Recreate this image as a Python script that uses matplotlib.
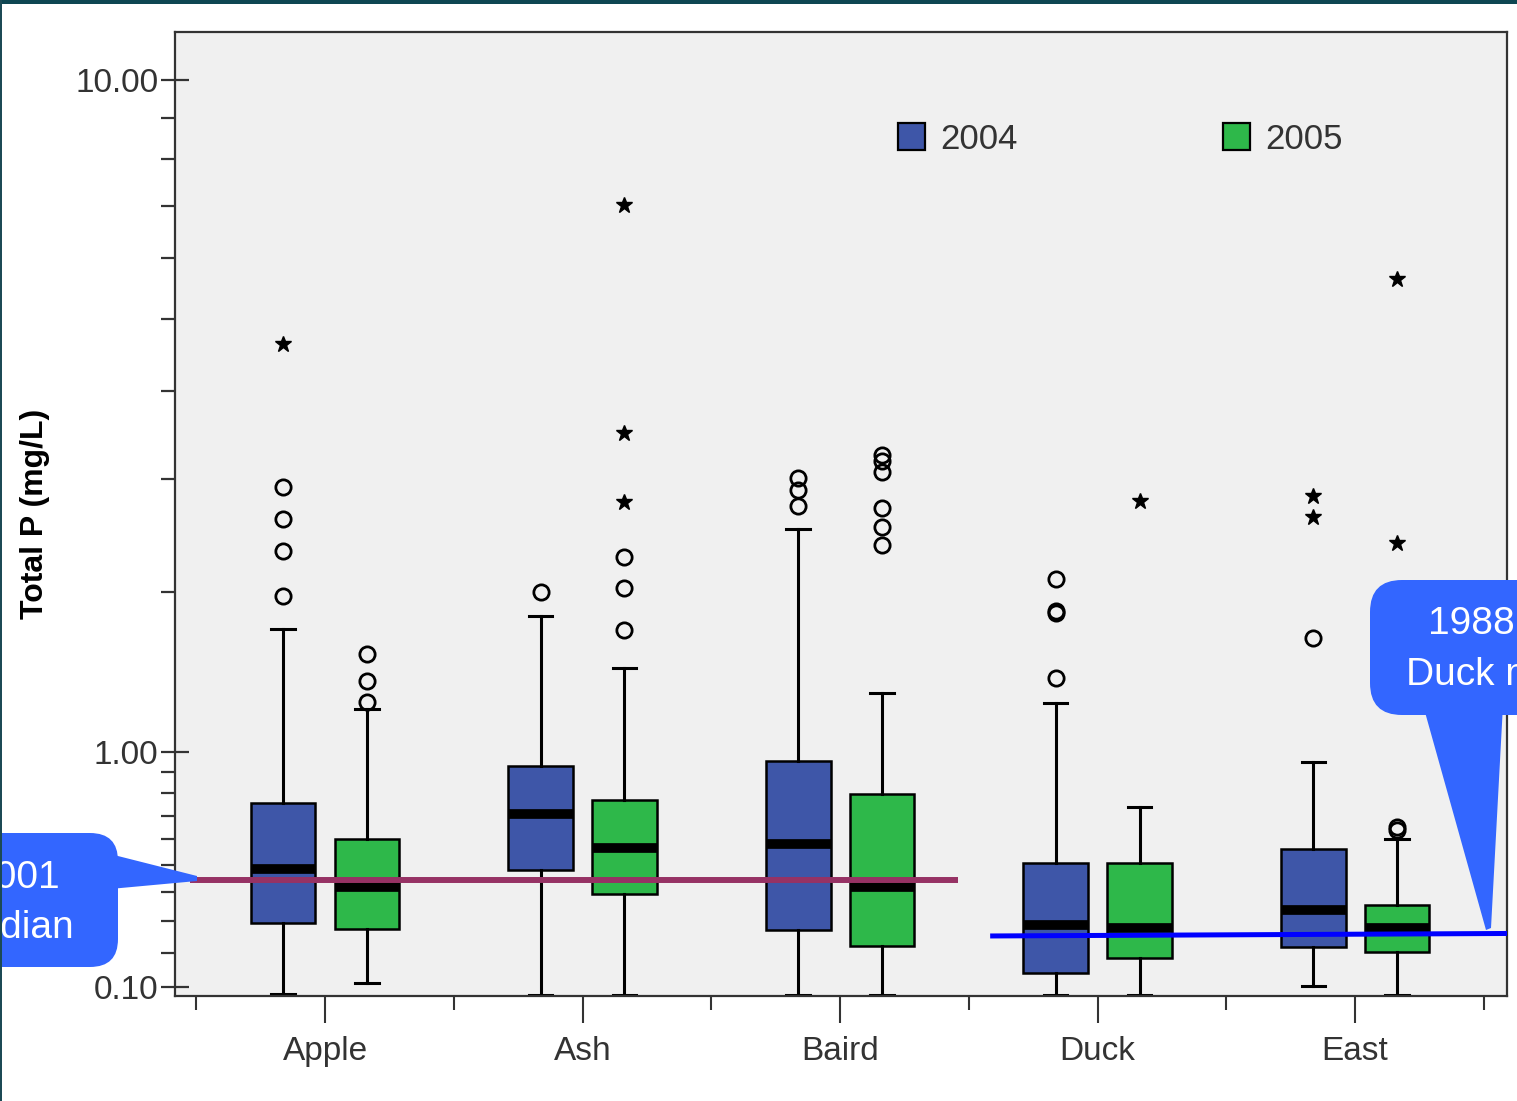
import numpy as np
import matplotlib
matplotlib.use("Agg")
import matplotlib.pyplot as plt
from matplotlib.patches import Patch, FancyBboxPatch, Polygon, Rectangle
from matplotlib.transforms import Affine2D
from matplotlib.ticker import FixedLocator, FixedFormatter, NullFormatter

# ---------------- data ----------------
sites = ["Apple", "Ash", "Baird", "Duck", "East"]
years = ["2004", "2005"]

q1_2004 = [0.295, 0.479, 0.271, 0.141, 0.217]
med_2004 = [0.485, 0.705, 0.583, 0.289, 0.338]
q3_2004 = [0.757, 0.929, 0.952, 0.505, 0.563]
lo_2004 = [0.080, 0.077, 0.077, 0.077, 0.104]
hi_2004 = [1.73, 1.82, 2.52, 1.26, 0.945]
out_2004 = [[1.97, 2.33, 2.61, 2.91], [2.00], [2.73, 2.89, 3.01],
            [1.41, 1.84, 1.86, 2.10], [1.67]]
ext_2004 = [[4.63], [], [], [], [2.63, 2.83]]

q1_2005 = [0.274, 0.393, 0.222, 0.184, 0.202]
med_2005 = [0.417, 0.564, 0.416, 0.278, 0.279]
q3_2005 = [0.600, 0.769, 0.797, 0.505, 0.354]
lo_2005 = [0.110, 0.077, 0.077, 0.077, 0.077]
hi_2005 = [1.23, 1.47, 1.32, 0.736, 0.603]
out_2005 = [[1.27, 1.39, 1.56], [1.72, 2.03, 2.28],
            [2.38, 2.54, 2.71, 3.07, 3.18, 3.25], [], [0.64, 0.65]]
ext_2005 = [[], [2.77, 3.49, 7.01], [], [2.78], [2.40, 5.64]]

ref_2001 = 0.443           # 2001 median reference (Apple..Baird)
ref_1988 = [0.252, 0.260]  # 1988 Duck median reference (line ends)

y_major = [0.1, 1.0, 10.0]
y_major_labels = ["0.10", "1.00", "10.00"]
y_minor = [0.2, 0.3, 0.4, 0.5, 0.6, 0.7, 0.8, 0.9, 2, 3, 4, 5, 6, 7, 8, 9]

# ---------------- style ----------------
plt.rcParams["font.family"] = ["Liberation Sans", "DejaVu Sans"]
BLUE = "#3E56A8"
GREEN = "#2EB84A"
CALLOUT = "#3366FF"

W, H = 1517, 1101
fig = plt.figure(figsize=(W / 100, H / 100), dpi=100)
fig.patch.set_facecolor("white")
ax = fig.add_axes([175 / W, (H - 996) / H, (1507 - 175) / W, (996 - 32) / H])
ax.set_facecolor("#F0F0F0")


def fwd(v):
    return np.log10(np.clip(v, -0.99, None) + 1.0)


def inv(u):
    return 10.0 ** u - 1.0


ax.set_yscale("function", functions=(fwd, inv))
ax.set_ylim(0.075, 11.43)
ax.set_xlim(-0.5825, 4.59)

offset = 0.163
bw = 0.252


def series_stats(q1, med, q3, lo, hi):
    return [dict(q1=a, med=b, q3=c, whislo=d, whishi=e, fliers=[])
            for a, b, c, d, e in zip(q1, med, q3, lo, hi)]


for stats, color, dx, outs, exts in [
    (series_stats(q1_2004, med_2004, q3_2004, lo_2004, hi_2004), BLUE, -offset, out_2004, ext_2004),
    (series_stats(q1_2005, med_2005, q3_2005, lo_2005, hi_2005), GREEN, offset, out_2005, ext_2005),
]:
    pos = [i + dx for i in range(len(sites))]
    ax.bxp(stats, positions=pos, widths=bw, patch_artist=True, showfliers=False,
           manage_ticks=False, capwidths=0.09,
           boxprops=dict(facecolor=color, edgecolor="black", linewidth=1.8),
           medianprops=dict(color="black", linewidth=7, solid_capstyle="butt"),
           whiskerprops=dict(color="black", linewidth=2.2),
           capprops=dict(color="black", linewidth=2.2))
    for p, o, e in zip(pos, outs, exts):
        if o:
            ax.plot([p] * len(o), o, linestyle="none", marker="o", ms=11,
                    mfc="none", mec="black", mew=2.0, zorder=4)
        if e:
            ax.plot([p] * len(e), e, linestyle="none", marker="*", ms=12,
                    color="black", zorder=4)

# reference lines
ax.plot([-0.524, 2.458], [ref_2001, ref_2001], color="#963264", lw=4.3,
        solid_capstyle="butt", zorder=6)
ax.plot([2.583, 4.60], ref_1988, color="#0000FF", lw=3.6,
        solid_capstyle="butt", zorder=6)

# ticks
ax.yaxis.set_major_locator(FixedLocator(y_major))
ax.yaxis.set_major_formatter(FixedFormatter(y_major_labels))
ax.yaxis.set_minor_locator(FixedLocator(y_minor))
ax.yaxis.set_minor_formatter(NullFormatter())
ax.tick_params(axis="y", which="major", direction="inout", length=20, width=1.6,
               color="#333333", labelcolor="#333333", labelsize=24, pad=2)
ax.tick_params(axis="y", which="minor", direction="out", length=10, width=1.6,
               color="#333333")

ax.set_xticks(range(len(sites)))
ax.set_xticklabels(sites)
ax.set_xticks([i - 0.5 for i in range(len(sites) + 1)], minor=True)
ax.tick_params(axis="x", which="major", direction="out", length=19.5, width=1.5,
               color="#333333", labelcolor="#333333", labelsize=24, pad=9.5)
ax.tick_params(axis="x", which="minor", direction="out", length=10, width=1.5,
               color="#333333")

for s in ax.spines.values():
    s.set_color("#333333")
    s.set_linewidth(1.6)

ax.set_ylabel("Total P (mg/L)", fontsize=23, fontweight="bold")
ax.yaxis.set_label_coords(-0.094, 0.5)

# legend
handles = [Patch(facecolor=BLUE, edgecolor="black", linewidth=1.6),
           Patch(facecolor=GREEN, edgecolor="black", linewidth=1.6)]
ax.legend(handles, years, ncol=2, frameon=False, loc="upper left",
          bbox_to_anchor=(0.5428, 0.906), fontsize=25, handlelength=0.78,
          handleheight=0.78, handletextpad=0.45, columnspacing=5.9,
          borderpad=0, borderaxespad=0, labelcolor="#333333")

# ---------------- callouts (image pixel coordinates) ----------------
px = Affine2D().scale(1 / W, -1 / H).translate(0, 1) + fig.transFigure

fig.add_artist(FancyBboxPatch((-80, 833), 198, 134,
                              boxstyle="round,pad=0,rounding_size=28",
                              fc=CALLOUT, ec="none", transform=px, zorder=10))
fig.add_artist(Polygon([(110, 854), (197, 876), (197, 881), (110, 889)],
                       closed=True, fc=CALLOUT, ec="none", transform=px, zorder=10))
fig.text(60, 878, "2001", transform=px, ha="right", va="center",
         color="white", fontsize=28, zorder=11)
fig.text(74, 928, "median", transform=px, ha="right", va="center",
         color="white", fontsize=28, zorder=11)

fig.add_artist(FancyBboxPatch((1370, 580), 260, 135,
                              boxstyle="round,pad=0,rounding_size=32",
                              fc=CALLOUT, ec="none", transform=px, zorder=10))
fig.add_artist(Polygon([(1423, 705), (1503, 705), (1491, 928), (1486, 930)],
                       closed=True, fc=CALLOUT, ec="none", transform=px, zorder=10))
fig.text(1428, 624, "1988", transform=px, ha="left", va="center",
         color="white", fontsize=28, zorder=11)
fig.text(1406, 675, "Duck median", transform=px, ha="left", va="center",
         color="white", fontsize=28, zorder=11)

# slide frame edges
fig.add_artist(Rectangle((0, 0), W, 4, transform=px, fc="#0E4652", ec="none", zorder=12))
fig.add_artist(Rectangle((0, 0), 2, H, transform=px, fc="#1C4A55", ec="none", zorder=12))

fig.savefig("out.png", dpi=100)
